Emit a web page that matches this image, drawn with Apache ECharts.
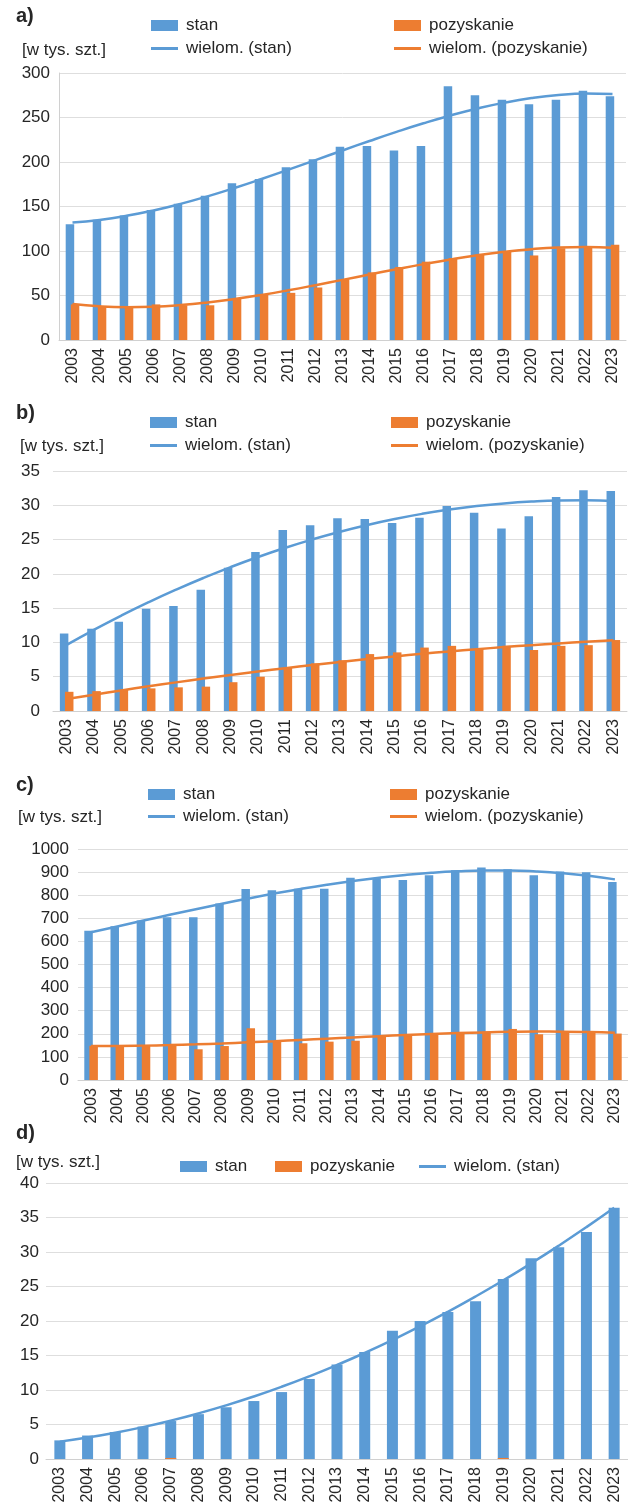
<!DOCTYPE html>
<html>
<head>
<meta charset="utf-8">
<script src="https://cdn.jsdelivr.net/npm/echarts@6/dist/echarts.min.js"></script>
<style>
  html, body { margin: 0; padding: 0; background: #fff; }
  #chart { width: 628px; height: 1506px; }
</style>
</head>
<body>
<div id="chart"></div>
<script>
// Years on the category axes
const years = ['2003','2004','2005','2006','2007','2008','2009','2010','2011','2012','2013',
  '2014','2015','2016','2017','2018','2019','2020','2021','2022','2023'];

// a) stan / pozyskanie [w tys. szt.]
const aStan = [130,135,140,146,153,162,176,181,194,203,217,218,213,218,285,275,270,265,270,280,274];
const aPoz  = [40,38,37,40,39,39,47,51,53,59,68,76,82,88,92,96,99,95,103,104,107];

// b)
const bStan = [11.3,12.0,13.0,14.9,15.3,17.7,20.9,23.2,26.4,27.1,28.1,28.0,27.4,28.2,29.9,28.9,26.6,28.4,31.2,32.2,32.1];
const bPoz  = [2.8,2.9,3.1,3.3,3.45,3.55,4.2,5.0,6.3,6.95,7.4,8.3,8.55,9.25,9.5,9.1,9.5,8.9,9.5,9.6,10.35];

// c)
const cStan = [646,666,691,705,705,764,827,821,828,828,876,873,866,886,908,920,912,886,903,899,857];
const cPoz  = [148,148,150,150,133,147,224,170,159,166,170,188,196,201,205,210,221,198,212,210,201];

// d)
const dStan = [2.7,3.4,3.9,4.7,5.5,6.5,7.5,8.4,9.7,11.6,13.7,15.5,18.6,20.0,21.3,22.85,26.1,29.1,30.7,32.9,36.4];
const dPoz  = [0,0,0,0,0.15,0,0,0,0,0,0,0,0,0,0,0,0.15,0,0,0,0];

// Value-axis ranges per panel
const yMax = [300, 35, 1000, 40];
const yStep = [50, 5, 100, 5];

// Polynomial degree used for each trendline ("wielom.")
const trendOrder = { aStan: 3, aPoz: 3, bStan: 2, bPoz: 2, cStan: 3, cPoz: 3, dStan: 2 };

const BLUE = '#5B9BD5';
const ORANGE = '#ED7D31';
const TEXT = '#262626';
const FONT = "'Liberation Sans', Arial, sans-serif";

// Least-squares polynomial trendline, x = 1..n as in spreadsheet trendlines
function polyTrend(ys, order) {
  const n = ys.length, m = order + 1;
  const A = Array.from({ length: m }, () => new Array(m + 1).fill(0));
  for (let i = 0; i < n; i++) {
    const x = i + 1;
    for (let r = 0; r < m; r++) {
      for (let c = 0; c < m; c++) A[r][c] += Math.pow(x, r + c);
      A[r][m] += ys[i] * Math.pow(x, r);
    }
  }
  for (let col = 0; col < m; col++) {
    let piv = col;
    for (let r = col + 1; r < m; r++) if (Math.abs(A[r][col]) > Math.abs(A[piv][col])) piv = r;
    const tmp = A[col]; A[col] = A[piv]; A[piv] = tmp;
    for (let r = 0; r < m; r++) {
      if (r === col) continue;
      const f = A[r][col] / A[col][col];
      for (let c = col; c <= m; c++) A[r][c] -= f * A[col][c];
    }
  }
  const coef = A.map((row, i) => row[m] / row[i]);
  return ys.map((_, i) => coef.reduce((s, c, k) => s + c * Math.pow(i + 1, k), 0));
}

// Plot areas
const grids = [
  { left: 59, top: 73,   width: 567, height: 267 },
  { left: 53, top: 471,  width: 574, height: 240 },
  { left: 78, top: 849,  width: 550, height: 231 },
  { left: 46, top: 1183, width: 582, height: 276 }
];
const labelMargins = [9, 13, 9, 7];

const xAxes = grids.map((g, i) => ({
  type: 'category', gridIndex: i, data: years,
  axisTick: { show: false },
  axisLine: { show: true, lineStyle: { color: '#d0d0d0', width: 1 } },
  axisLabel: { rotate: 90, margin: 8, color: TEXT, fontSize: 16, fontFamily: FONT, interval: 0 }
}));

const yAxes = grids.map((g, i) => ({
  type: 'value', gridIndex: i, min: 0, max: yMax[i], interval: yStep[i],
  axisLine: { show: i === 0, lineStyle: { color: '#d0d0d0' } },
  axisTick: { show: false },
  splitLine: { lineStyle: { color: '#dedede', width: 1 } },
  axisLabel: { color: TEXT, fontSize: 17, fontFamily: FONT, margin: labelMargins[i],
    formatter: v => String(v) }
}));

function bar(name, data, idx, color, width, gap) {
  return { name, type: 'bar', xAxisIndex: idx, yAxisIndex: idx, data,
    barWidth: width, barGap: gap, itemStyle: { color }, silent: true };
}
function trend(name, data, order, idx, color) {
  return { name, type: 'line', xAxisIndex: idx, yAxisIndex: idx,
    data: polyTrend(data, order), smooth: 0.5, symbol: 'none',
    lineStyle: { color, width: 2.5 }, itemStyle: { color }, z: 5, silent: true };
}

const series = [
  bar('stan', aStan, 0, BLUE, 8.5, '-40%'),
  bar('pozyskanie', aPoz, 0, ORANGE, 8.5, '-40%'),
  trend('wielom. (stan)', aStan, trendOrder.aStan, 0, BLUE),
  trend('wielom. (pozyskanie)', aPoz, trendOrder.aPoz, 0, ORANGE),

  bar('stan', bStan, 1, BLUE, 8.5, '-40%'),
  bar('pozyskanie', bPoz, 1, ORANGE, 8.5, '-40%'),
  trend('wielom. (stan)', bStan, trendOrder.bStan, 1, BLUE),
  trend('wielom. (pozyskanie)', bPoz, trendOrder.bPoz, 1, ORANGE),

  bar('stan', cStan, 2, BLUE, 8.5, '-40%'),
  bar('pozyskanie', cPoz, 2, ORANGE, 8.5, '-40%'),
  trend('wielom. (stan)', cStan, trendOrder.cStan, 2, BLUE),
  trend('wielom. (pozyskanie)', cPoz, trendOrder.cPoz, 2, ORANGE),

  bar('stan', dStan, 3, BLUE, 11, '-100%'),
  bar('pozyskanie', dPoz, 3, ORANGE, 11, '-100%'),
  trend('wielom. (stan)', dStan, trendOrder.dStan, 3, BLUE)
];

// One legend entry per placement: [name, left, vertical centre]
const legendItems = [
  ['stan', 151, 26], ['pozyskanie', 394, 26], ['wielom. (stan)', 151, 49], ['wielom. (pozyskanie)', 394, 49],
  ['stan', 150, 423], ['pozyskanie', 391, 423], ['wielom. (stan)', 150, 446], ['wielom. (pozyskanie)', 391, 446],
  ['stan', 148, 795], ['pozyskanie', 390, 795], ['wielom. (stan)', 148, 817], ['wielom. (pozyskanie)', 390, 817],
  ['stan', 180, 1167], ['pozyskanie', 275, 1167], ['wielom. (stan)', 419, 1167]
];
const legends = legendItems.map(([name, left, cy]) => {
  const isLine = name.indexOf('wielom.') === 0;
  return {
    data: [{ name, icon: 'rect' }], left, top: cy - 9, padding: 0,
    itemWidth: 27, itemHeight: isLine ? 3 : 11,
    selectedMode: false,
    textStyle: { color: TEXT, fontSize: 17, fontFamily: FONT, padding: [0, 0, 0, 3] }
  };
});

// Panel letters and unit captions
const captions = [
  ['a)', 16, 16, true], ['[w tys. szt.]', 22, 50, false],
  ['b)', 16, 413, true], ['[w tys. szt.]', 20, 446, false],
  ['c)', 16, 785, true], ['[w tys. szt.]', 18, 817, false],
  ['d)', 16, 1133, true], ['[w tys. szt.]', 16, 1162, false]
];
const graphic = captions.map(([text, x, y, bold]) => ({
  type: 'text', silent: true,
  style: { text, x, y, verticalAlign: 'middle', fill: TEXT,
    font: (bold ? 'bold 20px ' : '17px ') + FONT }
}));

const chart = echarts.init(document.getElementById('chart'), null, { renderer: 'canvas' });
chart.setOption({
  animation: false,
  backgroundColor: '#ffffff',
  grid: grids,
  xAxis: xAxes,
  yAxis: yAxes,
  legend: legends,
  graphic,
  series
});
</script>
</body>
</html>
